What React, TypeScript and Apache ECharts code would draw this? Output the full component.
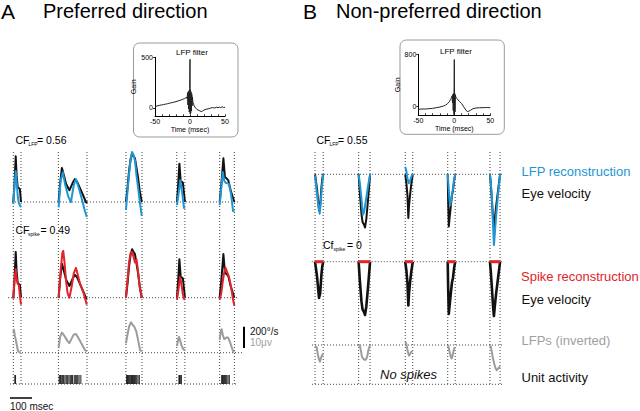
import React, { useEffect, useRef } from "react";
import * as echarts from "echarts";

const FONT = "'Liberation Sans', Arial, Helvetica, sans-serif";
const BLUE = "#1e96d4";
const RED = "#e3232a";
const GRAY = "#9c9c9c";
const BLACK = "#111111";

// ---------- Panel A (preferred direction), time in ms ----------
const segA = [[15, 50], [220, 350], [527, 600], [758, 795], [953, 1020]];

const eyeA = [
  [[15, 0], [20, 150], [26, 430], [30, 250], [35, 140], [40, 130], [45, 120], [50, 0]],
  [[221, 0], [228, 180], [236, 320], [245, 250], [255, 170], [270, 110], [285, 180], [295, 215], [305, 190], [320, 120], [335, 50], [345, 0], [350, -10]],
  [[527, 0], [535, 150], [541, 290], [548, 400], [555, 455], [562, 430], [568, 410], [575, 320], [582, 230], [590, 100], [599, 0]],
  [[759, 0], [764, 150], [770, 360], [776, 190], [781, 190], [786, 180], [795, 0]],
  [[953, 0], [960, 150], [970, 410], [977, 235], [985, 220], [992, 205], [1003, 110], [1012, 50], [1020, 0]],
];

const lfpRecA = [
  [[15, -20], [20, 150], [26, 290], [30, 200], [35, 60], [40, -10], [45, -30], [50, -50]],
  [[221, -50], [230, 200], [240, 280], [250, 170], [265, 50], [277, 0], [290, 160], [300, 215], [310, 150], [325, 40], [340, -80], [349, -140]],
  [[527, -75], [535, 120], [541, 260], [548, 400], [555, 470], [562, 440], [568, 390], [575, 250], [582, 140], [590, 0], [599, -130]],
  [[759, -30], [766, 75], [774, 205], [782, 95], [791, -55], [795, -60]],
  [[953, -30], [960, 120], [967, 280], [974, 200], [980, 180], [988, 175], [995, 170], [1005, 70], [1014, -85], [1020, -85]],
];

const spikeRecA = [
  [[15, -10], [20, 150], [26, 270], [30, 180], [35, 130], [40, 120], [45, 20], [50, -65]],
  [[221, 0], [230, 250], [238, 420], [242, 440], [248, 330], [255, 150], [262, 40], [270, 0], [280, 100], [290, 230], [300, 280], [310, 200], [320, 120], [335, 40], [349, -65]],
  [[527, 0], [535, 180], [541, 330], [548, 420], [555, 430], [562, 380], [568, 330], [575, 360], [582, 250], [590, 100], [599, 0]],
  [[759, -20], [766, 80], [773, 190], [778, 150], [785, 40], [791, -10], [795, -20]],
  [[953, -20], [960, 40], [967, 150], [973, 230], [980, 280], [987, 240], [995, 200], [1005, 100], [1014, -20], [1020, -75]],
];

const lfpA = [
  [[15, 9.4], [18, 10.8], [22, 8], [27, 5.6], [32, 3], [36, 0.9], [42, 0.3], [49, 0]],
  [[221, 2.2], [228, 7.5], [236, 9.4], [245, 8.2], [255, 6.6], [263, 5.2], [270, 4.5], [280, 6.6], [290, 8.5], [300, 8.8], [310, 7], [320, 5.2], [330, 3.3], [340, 1.4], [349, 0.5]],
  [[527, 4.4], [535, 9], [542, 12.5], [550, 14.3], [558, 13], [566, 12], [574, 10], [582, 6], [591, 1.3], [599, 0.5]],
  [[759, 3.1], [764, 6], [768, 7.5], [774, 5.5], [780, 3.3], [788, 1.6], [795, 1]],
  [[953, 6], [958, 10], [962, 11], [968, 8], [974, 6.4], [980, 6.8], [986, 7.2], [992, 7], [1000, 5], [1008, 2.5], [1015, 0.5], [1020, 0.5]],
];

const spikesA = [22, 25, 224, 228, 231, 236, 240, 244, 250, 256, 262, 268, 274, 279, 284, 292, 297, 303, 308, 314, 322,
  530, 534, 538, 542, 546, 550, 553, 557, 561, 566, 571, 576, 582, 588, 768, 771, 774, 779,
  962, 966, 970, 975, 980, 985, 991, 997];

const baseA = [
  [[9, 0], [1036, 0]],
  [[-9, 0], [1036, 0]],
  [[0, 0], [1060, 0]],
  [[0, 0], [1036, 0]],
];

// ---------- Panel B (non-preferred direction) ----------
const segB = [[23, 60], [221, 273], [433, 467], [626, 660], [818, 864]];

const eyeB = [
  [[23, 0], [32, -140], [41, -340], [46, -300], [52, -120], [56, -40], [60, 0]],
  [[221, 0], [227, -190], [234, -375], [239, -450], [245, -470], [250, -500], [256, -420], [264, -235], [273, 0]],
  [[433, 0], [438, -80], [443, -200], [447, -410], [450, -300], [455, -190], [460, -100], [467, 0]],
  [[626, 0], [628, -250], [631, -490], [634, -420], [637, -360], [640, -300], [645, -200], [650, -150], [655, -60], [660, 0]],
  [[818, 0], [822, -100], [827, -250], [832, -420], [836, -510], [840, -420], [846, -300], [852, -200], [858, -100], [864, 0]],
];

const lfpRecB = [
  [[23, -10], [30, -150], [37, -280], [44, -370], [48, -280], [53, -140], [60, 0]],
  [[221, 0], [227, -90], [234, -230], [240, -380], [245, -360], [250, -300], [256, -220], [264, -110], [273, 0]],
  [[433, 70], [438, 30], [443, -40], [449, -85], [455, -60], [461, -20], [467, 0]],
  [[626, 0], [630, -120], [634, -240], [638, -290], [642, -240], [648, -160], [654, -70], [660, 0]],
  [[818, 0], [822, -80], [827, -230], [832, -470], [836, -665], [840, -560], [846, -390], [852, -250], [858, -120], [864, 0]],
];

const spikeRecB = [
  [[23, 0], [60, 0]],
  [[221, 0], [273, 0]],
  [[433, 0], [467, 0]],
  [[626, 0], [660, 0]],
  [[818, 0], [864, 0]],
];

const lfpB = [
  [[23, -0.5], [30, -1], [35, -4], [40, -6.5], [45, -7.8], [50, -6], [55, -4.7], [60, -4]],
  [[221, 0], [227, -0.5], [232, -3], [236, -5.5], [243, -6.5], [250, -7], [256, -6.5], [261, -5], [265, -2.5], [273, 0]],
  [[433, 1.5], [438, 0.5], [443, -2.5], [450, -5], [456, -4], [462, -3], [467, -3]],
  [[626, 0], [630, -1], [635, -3.5], [640, -5.5], [644, -6.3], [648, -5], [652, -3], [656, -1.5], [660, -1]],
  [[818, 0], [822, -1], [826, -3], [832, -6.5], [838, -9], [844, -11], [849, -11.8], [855, -11], [860, -10.5], [864, -10]],
];

const baseB = [
  [[23, 0], [877, 0]],
  [[8, 0], [877, 0]],
  [[9, 0], [877, 0]],
  [[9, 0], [877, 0]],
];

// ---------- LFP filters (insets), gain vs time (ms) ----------
const filterA = [
  [-50, 15], [-47, 20], [-44, 25], [-41, 30], [-38, 33], [-35, 38], [-32, 42], [-29, 48], [-26, 52], [-23, 58], [-20, 62],
  [-17, 70], [-14, 76], [-11, 84], [-8, 92], [-6, 100], [-5, 108], [-4, 90], [-3.5, 150], [-3, 30], [-2.5, 160],
  [-2, -10], [-1.5, 170], [-1, -40], [-0.5, 190], [0, 480], [0.3, -60], [0.7, 180], [1, -50], [1.5, 160], [2, -30],
  [2.5, 140], [3, 20], [3.5, 110], [4, 60], [5, 40], [6, 20], [8, 0], [10, -15], [13, -25], [16, -35], [18, -30],
  [20, -20], [23, -12], [26, -8], [29, -2], [32, 4], [35, 0], [38, 8], [40, 2], [42, 10], [44, 3], [46, 12], [48, 4], [50, 8],
];

const filterB = [
  [-50, -40], [-45, -35], [-40, -35], [-35, -30], [-30, -25], [-25, -15], [-20, -5], [-15, 10], [-12, 25], [-9, 50],
  [-7, 75], [-5, 110], [-4, 140], [-3, 165], [-2.5, 60], [-2, 190], [-1.5, -60], [-1, 200], [-0.5, -120], [0, 720],
  [0.3, -120], [0.7, 200], [1, -80], [1.5, 180], [2, 150], [3, 130], [5, 110], [7, 80], [10, 50], [13, 0], [16, -50],
  [18, -75], [20, -70], [23, -50], [26, -30], [30, -20], [35, -15], [40, -15], [45, -12], [50, -15],
];

const VEL_PER_PX = 9.39; // deg/s per pixel (200 deg/s scale bar)
const UV_PER_PX = 0.469; // microvolt per pixel (10 uV scale bar)
const DOT: any = [1, 2];

function buildOption() {
  const grid: any[] = [];
  const xAxis: any[] = [];
  const yAxis: any[] = [];
  const series: any[] = [];

  const hidden = { show: false };

  function addGrid(left: number, width: number, top: number, height: number, xmin: number, xmax: number, ymin: number, ymax: number, xa: any = null, ya: any = null) {
    const i = grid.length;
    grid.push({ left, width, top, height, containLabel: false, show: false });
    xAxis.push(Object.assign({ type: "value", gridIndex: i, min: xmin, max: xmax, show: false, splitLine: hidden }, xa || {}));
    yAxis.push(Object.assign({ type: "value", gridIndex: i, min: ymin, max: ymax, show: false, splitLine: hidden }, ya || {}));
    return i;
  }

  function rowGrid(left: number, width: number, xmin: number, xmax: number, baseline: number, ymin: number, ymax: number, perPx: number) {
    return addGrid(left, width, baseline - ymax / perPx, (ymax - ymin) / perPx, xmin, xmax, ymin, ymax);
  }

  function line(gi: number, data: any[], color: string, width: number, z: number, dotted = false) {
    series.push({
      type: "line",
      xAxisIndex: gi,
      yAxisIndex: gi,
      data,
      symbol: "none",
      showSymbol: false,
      silent: true,
      clip: false,
      z,
      lineStyle: { color, width, type: dotted ? DOT : "solid", join: "round" },
    });
  }

  function segs(gi: number, list: any[], color: string, width: number, z: number) {
    list.forEach((d) => line(gi, d, color, width, z));
  }

  // ----- Panel A -----
  const AX0 = -10, AX1 = 1070, APX = 0.22;
  const aLeft = 10 + AX0 * APX, aWidth = (AX1 - AX0) * APX;
  const a1 = rowGrid(aLeft, aWidth, AX0, AX1, 202, -300, 600, VEL_PER_PX);
  const a2 = rowGrid(aLeft, aWidth, AX0, AX1, 297.7, -300, 600, VEL_PER_PX);
  const a3 = rowGrid(aLeft, aWidth, AX0, AX1, 352.7, -5, 20, UV_PER_PX);
  const a4 = addGrid(aLeft, aWidth, 375, 9, AX0, AX1, 0, 1);
  const aV = addGrid(aLeft, aWidth, 152, 232, AX0, AX1, 0, 1);

  [a1, a2, a3, a4].forEach((g, k) => line(g, baseA[k], "#444", 1, 1, true));
  segA.forEach((s) => {
    line(aV, [[s[0], 0], [s[0], 1]], "#444", 1, 1, true);
    line(aV, [[s[1], 0], [s[1], 1]], "#444", 1, 1, true);
  });
  segs(a1, eyeA, BLACK, 2, 2);
  segs(a1, lfpRecA, BLUE, 2, 3);
  segs(a2, eyeA, BLACK, 2, 2);
  segs(a2, spikeRecA, RED, 2, 3);
  segs(a3, lfpA, GRAY, 2, 2);
  series.push({
    type: "scatter",
    xAxisIndex: a4,
    yAxisIndex: a4,
    data: spikesA.map((t) => [t, 0.5]),
    symbol: "rect",
    symbolSize: [1.1, 9],
    silent: true,
    clip: false,
    z: 3,
    itemStyle: { color: "#000" },
  });

  // ----- Panel B -----
  const BX0 = 0, BX1 = 900, BPX = 0.22;
  const bLeft = 310, bWidth = (BX1 - BX0) * BPX;
  const b1 = rowGrid(bLeft, bWidth, BX0, BX1, 174.3, -800, 300, VEL_PER_PX);
  const b2 = rowGrid(bLeft, bWidth, BX0, BX1, 261.7, -800, 300, VEL_PER_PX);
  const b3 = rowGrid(bLeft, bWidth, BX0, BX1, 345, -20, 10, UV_PER_PX);
  const b4 = addGrid(bLeft, bWidth, 375.3, 9, BX0, BX1, 0, 1);
  const bV = addGrid(bLeft, bWidth, 152, 232, BX0, BX1, 0, 1);

  [b1, b2, b3, b4].forEach((g, k) => line(g, baseB[k], "#444", 1, 1, true));
  segB.forEach((s) => {
    line(bV, [[s[0], 0], [s[0], 1]], "#444", 1, 1, true);
    line(bV, [[s[1], 0], [s[1], 1]], "#444", 1, 1, true);
  });
  segs(b1, eyeB, BLACK, 2, 2);
  segs(b1, lfpRecB, BLUE, 2, 3);
  segs(b2, eyeB, BLACK, 2.6, 2);
  segs(b2, spikeRecB, RED, 3, 3);
  segs(b3, lfpB, GRAY, 2, 2);

  // ----- Insets -----
  function insetAxes(ymin: number, ymax: number, yticks: number[]) {
    const xa = {
      show: true,
      interval: 10,
      axisLine: { show: true, onZero: false, lineStyle: { color: "#000", width: 1 } },
      axisTick: { show: true, inside: true, length: 2, lineStyle: { color: "#000", width: 0.8 } },
      axisLabel: {
        show: true,
        fontSize: 7,
        fontFamily: FONT,
        color: "#000",
        margin: 2,
        customValues: [-50, 0, 50],
      },
      name: "Time (msec)",
      nameLocation: "middle",
      nameGap: 9,
      nameTextStyle: { fontSize: 7, fontFamily: FONT, color: "#000" },
    };
    const ya = {
      show: true,
      axisLine: { show: true, onZero: false, lineStyle: { color: "#000", width: 1 } },
      axisTick: { show: true, length: 2, customValues: yticks, lineStyle: { color: "#000", width: 0.8 } },
      axisLabel: { show: true, fontSize: 7, fontFamily: FONT, color: "#000", margin: 2, customValues: yticks },
      name: "Gain",
      nameLocation: "middle",
      nameRotate: 90,
      nameGap: 7,
      nameTextStyle: { fontSize: 7, fontFamily: FONT, color: "#000" },
    };
    return { xa, ya };
  }
  const iA = insetAxes(-82, 500, [0, 500]);
  const fA = addGrid(155, 70, 57.3, 59, -50, 50, -82, 500, iA.xa, iA.ya);
  line(fA, filterA, "#222", 1, 3);
  const iB = insetAxes(-131, 800, [0, 800]);
  const fB = addGrid(418.3, 72, 54.3, 61, -50, 50, -131, 800, iB.xa, iB.ya);
  line(fB, filterB, "#222", 1, 3);

  const txt = (x: number, y: number, text: string, size: number, color = "#000", extra: any = {}) => ({
    type: "text",
    x,
    y,
    silent: true,
    style: Object.assign(
      { text, fill: color, fontSize: size, fontFamily: FONT, textVerticalAlign: "middle", verticalAlign: "middle", align: "left" },
      extra
    ),
  });

  const graphic: any[] = [
    { type: "rect", silent: true, z: 0, shape: { x: 133.5, y: 43, width: 104.5, height: 94, r: 6 }, style: { fill: "#fff", stroke: "#9a9a9a", lineWidth: 1 } },
    { type: "rect", silent: true, z: 0, shape: { x: 400, y: 40, width: 104.3, height: 94.3, r: 6 }, style: { fill: "#fff", stroke: "#9a9a9a", lineWidth: 1 } },
    txt(176, 52.5, "LFP filter", 8),
    txt(440, 51, "LFP filter", 8),

    txt(1, 11, "A", 21),
    txt(43, 11, "Preferred direction", 20),
    txt(303, 11, "B", 21),
    txt(336, 11, "Non-preferred direction", 20),

    txt(15.5, 140.3, "CF", 10.5),
    txt(28.5, 144, "LFP", 5),
    txt(37, 140.3, "= 0.56", 10.5),
    txt(15.5, 230.3, "CF", 10.5),
    txt(28, 234, "spike", 5),
    txt(40.5, 230.3, "= 0.49", 10.5),

    txt(316.5, 140.3, "CF", 10.5),
    txt(329.5, 144, "LFP", 5),
    txt(338, 140.3, "= 0.55", 10.5),
    txt(323, 245.3, "Cf", 10.5),
    txt(333.5, 249, "spike", 5),
    txt(347, 245.3, "= 0", 10.5),

    txt(521.5, 171.7, "LFP reconstruction", 13, BLUE),
    txt(521.5, 193.3, "Eye velocity", 13, "#111"),
    txt(521, 276, "Spike reconstruction", 13, RED),
    txt(521.5, 299, "Eye velocity", 13, "#111"),
    txt(521.5, 340, "LFPs (inverted)", 13, "#a0a0a0"),
    txt(521.5, 377, "Unit activity", 13, "#111"),

    txt(380, 374, "No spikes", 13, "#111", { fontStyle: "italic" }),

    { type: "line", silent: true, shape: { x1: 244, y1: 326.7, x2: 244, y2: 348 }, style: { stroke: "#000", lineWidth: 2 } },
    txt(250, 331.5, "200°/s", 10, "#111"),
    txt(250, 342.5, "10μv", 10, "#a0a0a0"),
    { type: "line", silent: true, shape: { x1: 10, y1: 398, x2: 32, y2: 398 }, style: { stroke: "#000", lineWidth: 1.5 } },
    txt(10, 406.5, "100 msec", 10, "#111"),
  ];

  return {
    animation: false,
    backgroundColor: "#ffffff",
    textStyle: { fontFamily: FONT },
    grid,
    xAxis,
    yAxis,
    series,
    graphic: { elements: graphic },
  };
}

export default function App() {
  const ref = useRef<HTMLDivElement>(null);
  useEffect(() => {
    const chart = echarts.init(ref.current as HTMLDivElement, null, { renderer: "svg" });
    chart.setOption(buildOption() as any);
    return () => chart.dispose();
  }, []);
  return (
    <div
      ref={ref}
      style={{ position: "fixed", left: 0, top: 0, width: 640, height: 411, background: "#fff" }}
    />
  );
}
